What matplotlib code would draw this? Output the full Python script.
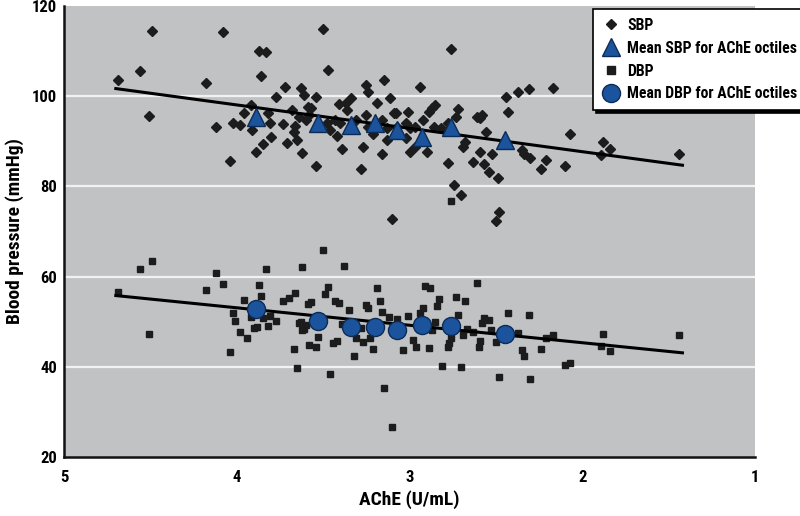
import matplotlib
matplotlib.use("Agg")
import matplotlib.pyplot as plt
from matplotlib.lines import Line2D
from matplotlib import font_manager

# pick a narrow font if one is installed
names = {f.name for f in font_manager.fontManager.ttflist}
narrow = [n for n in ['Liberation Sans Narrow', 'DejaVu Sans Condensed', 'Roboto Condensed',
                      'Open Sans Condensed'] if n in names]
plt.rcParams['font.family'] = narrow + ['DejaVu Sans']
plt.rcParams['font.stretch'] = 'condensed'
plt.rcParams['font.weight'] = 'bold'

# ---- data ----
sbp_x = [4.49, 4.08, 3.87, 3.83, 4.56, 4.69, 3.86, 4.18, 4.51, 4.12, 4.04, 3.72, 3.63, 3.77, 3.61,
         3.54, 3.92, 3.96, 3.82, 3.59, 3.57, 3.68, 4.02, 3.98, 3.91, 3.81, 3.73, 3.66, 3.67, 3.64,
         3.60, 3.80, 3.85, 3.89, 3.71, 3.65, 3.62, 3.54,
         3.47, 3.41, 3.37, 3.34, 3.36, 3.25, 3.24, 3.15, 3.11, 3.19, 3.08, 3.58, 3.48, 3.46, 3.43,
         3.42, 3.39, 3.27, 3.28, 3.16, 3.40, 3.31, 3.24, 3.21, 3.16, 3.13, 3.09, 3.07,
         3.50, 2.76, 2.94, 3.01, 2.89, 2.87, 2.85, 2.92, 2.86, 2.82, 2.78, 2.78, 2.73, 2.72, 2.61,
         2.58, 2.59, 2.69, 2.68, 2.78, 2.74, 2.70, 3.10, 2.48, 2.50, 2.56, 2.59, 2.63, 2.57, 2.54,
         2.49, 2.52, 2.44, 2.43, 2.37, 2.31, 2.17, 2.35, 2.34, 2.30, 2.21, 2.24, 2.10, 2.07, 3.00,
         2.97, 2.90, 3.02, 3.25, 3.13, 3.02, 3.00, 2.97,
         1.88, 1.84, 1.89, 1.44]
sbp_y = [114.5, 114.2, 110.1, 109.7, 105.7, 103.5, 104.5, 103.0, 95.6, 93.1, 85.6, 102.0, 101.9, 99.8, 100.2,
         99.9, 98.0, 96.2, 96.2, 97.7, 97.5, 96.9, 94.0, 93.6, 92.5, 94.1, 93.8, 93.4, 92.1, 95.3,
         94.7, 90.9, 89.4, 87.7, 89.7, 90.3, 87.5, 84.6,
         105.9, 98.2, 98.4, 99.7, 96.9, 102.6, 100.9, 103.6, 99.6, 98.4, 96.2, 95.8, 94.0, 92.5, 94.7,
         91.2, 88.2, 88.8, 83.9, 87.3, 94.0, 94.7, 93.2, 91.6, 94.7, 90.3, 96.2, 93.2,
         114.9, 110.5, 102.1, 96.6, 96.6, 97.3, 98.0, 94.7, 93.2, 92.9, 92.5, 94.0, 95.3, 97.2, 95.5,
         95.8, 95.1, 88.8, 89.9, 85.1, 80.3, 78.1, 72.8, 74.3, 72.4, 92.1, 87.7, 85.5, 85.0, 83.3,
         81.8, 87.2, 99.9, 96.6, 101.0, 101.5, 101.9, 88.1, 87.3, 86.2, 85.9, 83.8, 84.6, 91.6, 87.7,
         88.8, 87.6, 90.7, 95.8, 92.9, 94.0, 92.9, 93.2,
         89.9, 88.4, 87.0, 87.1]

dbp_x = [4.49, 4.56, 4.69, 4.51, 4.12, 4.08, 4.18, 3.83, 3.62, 3.87, 3.86, 3.96, 4.02, 4.01, 3.98,
         3.94, 4.04, 3.92, 3.85, 3.81, 3.77, 3.82, 3.90, 3.88, 3.73, 3.70, 3.66, 3.59, 3.57, 3.64,
         3.61, 3.67, 3.65, 3.58, 3.54, 3.53,
         3.38, 3.50, 3.47, 3.49, 3.43, 3.41, 3.35, 3.19, 3.17, 3.25, 3.24, 3.16, 3.12, 3.07, 3.63,
         3.62, 3.60, 3.44, 3.42, 3.46, 3.32, 3.31, 3.27, 3.23, 3.21, 3.15, 3.10, 3.39, 3.33, 3.28, 3.23,
         2.61, 2.91, 2.88, 2.83, 2.84, 2.73, 2.68, 2.92, 2.94, 3.01, 2.72, 2.85, 2.87, 2.57, 2.54,
         2.58, 2.53, 2.43, 2.31, 2.67, 2.63, 2.69, 2.76, 2.77, 2.78, 2.59, 2.60, 2.50, 2.98, 2.96,
         3.04, 2.89, 2.81, 2.70, 2.48, 2.37, 2.35, 2.34, 2.30, 2.24, 2.21, 2.17, 2.10, 2.07,
         1.88, 1.89, 1.84, 1.44, 2.76]
dbp_y = [63.5, 61.6, 56.7, 47.2, 60.7, 58.4, 57.0, 61.7, 62.1, 58.2, 55.7, 54.9, 52.0, 50.2, 47.8,
         46.5, 43.3, 51.0, 50.8, 51.3, 50.2, 49.0, 48.5, 48.9, 54.7, 55.2, 56.3, 53.9, 54.4, 49.8,
         48.3, 44.0, 39.7, 44.8, 44.3, 46.7,
         62.3, 65.9, 57.8, 56.1, 54.7, 54.1, 52.6, 57.5, 54.7, 53.7, 53.0, 52.2, 51.1, 50.7, 50.0,
         48.2, 49.3, 45.3, 45.8, 38.3, 42.5, 46.3, 45.6, 46.5, 43.9, 35.2, 26.7, 49.6, 48.9, 48.5, 48.9,
         58.5, 57.9, 57.4, 55.0, 53.5, 55.4, 54.6, 53.0, 51.9, 51.3, 51.6, 50.0, 48.2, 50.8, 50.4,
         49.8, 48.2, 52.0, 51.5, 48.3, 47.8, 47.1, 46.3, 45.3, 44.5, 45.8, 44.5, 45.6, 45.9, 44.5,
         43.7, 44.1, 40.2, 39.9, 37.8, 47.6, 43.7, 42.4, 37.2, 43.9, 46.3, 47.1, 40.4, 40.9,
         47.3, 44.6, 43.4, 47.1, 76.8]

octile_x = [3.89, 3.53, 3.34, 3.20, 3.07, 2.93, 2.76, 2.45]
sbp_mean = [95.5, 94.0, 93.6, 94.0, 92.5, 91.0, 93.1, 90.3]
dbp_mean = [52.9, 50.2, 48.9, 48.9, 48.2, 49.3, 49.0, 47.3]

fit_x = [4.70, 1.42]
sbp_fit = [101.7, 84.7]
dbp_fit = [55.8, 43.1]

x_ticks = [5, 4, 3, 2, 1]
y_ticks = [20, 40, 60, 80, 100, 120]

# ---- styling ----
bg = '#c0c2c4'
mk = '#1c1c1c'
blue = '#1b549c'
blue_edge = '#0d2b57'

have_narrow = len(narrow) > 0
fs_tick = 12 if have_narrow else 10
fs_lab = 14 if have_narrow else 11.5
fs_leg = 11.3 if have_narrow else 9

fig = plt.figure(figsize=(8, 5.16), dpi=100)
ax = fig.add_axes([0.08, 0.1143, 0.86375, 0.874])
ax.set_facecolor(bg)
ax.set_xlim(5, 1)
ax.set_ylim(20, 120)
ax.set_xticks(x_ticks)
ax.set_yticks(y_ticks)
ax.set_xticklabels([str(v) for v in x_ticks])
ax.set_yticklabels([str(v) for v in y_ticks])
ax.tick_params(axis='x', length=0, labelsize=fs_tick, pad=9)
ax.tick_params(axis='y', length=0, labelsize=fs_tick, pad=5)
for lab in ax.get_xticklabels() + ax.get_yticklabels():
    lab.set_fontweight('bold')
for g in [40, 60, 80, 100]:
    ax.axhline(g, color='#f2f2f2', lw=1.6, zorder=0.5)
for s in ['top', 'right']:
    ax.spines[s].set_visible(False)
for s in ['left', 'bottom']:
    ax.spines[s].set_linewidth(1.8)
    ax.spines[s].set_color('#111111')

ax.plot(sbp_x, sbp_y, linestyle='none', marker='D', ms=5.0, color=mk, mec=mk, zorder=2)
ax.plot(dbp_x, dbp_y, linestyle='none', marker='s', ms=4.8, color=mk, mec=mk, zorder=2)
ax.plot(fit_x, sbp_fit, color='black', lw=2.2, zorder=3)
ax.plot(fit_x, dbp_fit, color='black', lw=2.2, zorder=3)
ax.plot(octile_x, sbp_mean, linestyle='none', marker='^', ms=13, color=blue, mec=blue_edge, mew=1.0, zorder=4)
ax.plot(octile_x, dbp_mean, linestyle='none', marker='o', ms=13, color=blue, mec=blue_edge, mew=1.0, zorder=4)

ax.set_xlabel('AChE (U/mL)', fontsize=fs_lab, fontweight='bold', labelpad=4)
ax.set_ylabel('Blood pressure (mmHg)', fontsize=fs_lab, fontweight='bold', labelpad=6)

handles = [
    Line2D([], [], linestyle='none', marker='D', ms=5.5, color=mk),
    Line2D([], [], linestyle='none', marker='^', ms=13, color=blue, mec=blue_edge),
    Line2D([], [], linestyle='none', marker='s', ms=5.5, color=mk),
    Line2D([], [], linestyle='none', marker='o', ms=13, color=blue, mec=blue_edge),
]
labels = ['SBP', 'Mean SBP for AChE octiles', 'DBP', 'Mean DBP for AChE octiles']
leg = fig.legend(handles, labels, loc='upper left', bbox_to_anchor=(0.741, 0.982),
                 frameon=True, fancybox=False, shadow={'color': 'black', 'alpha': 1},
                 prop={'size': fs_leg, 'weight': 'bold'}, handlelength=1.2, handletextpad=0.45,
                 labelspacing=0.5, borderpad=0.55, borderaxespad=0)
leg.get_frame().set_edgecolor('black')
leg.get_frame().set_linewidth(1.2)
leg.get_frame().set_facecolor('white')

fig.savefig('out.png', dpi=100)
